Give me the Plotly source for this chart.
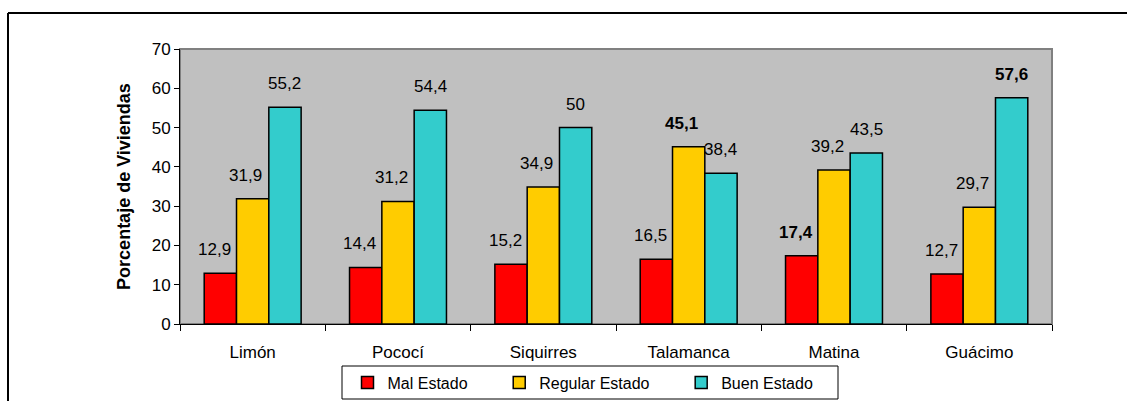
import plotly.graph_objects as go

categories = ["Limón", "Pococí", "Siquirres", "Talamanca", "Matina", "Guácimo"]
series_names = ["Mal Estado", "Regular Estado", "Buen Estado"]
mal = [12.9, 14.4, 15.2, 16.5, 17.4, 12.7]
regular = [31.9, 31.2, 34.9, 45.1, 39.2, 29.7]
buen = [55.2, 54.4, 50.0, 38.4, 43.5, 57.6]
y_ticks = [0, 10, 20, 30, 40, 50, 60, 70]
y_title = "Porcentaje de Viviendas"

colors = ["#FF0000", "#FFCC00", "#33CCCC"]
label_xshift = [-6, -7, 0]
FONT = "Arial, Liberation Sans, sans-serif"
PAD = "\u00a0" * 6

W, H = 1127, 401
L, R, T, B = 180, 75, 49, 77
pw, ph = W - L - R, H - T - B
bargap = 0.333
n = len(categories)
bar_px = pw / n * (1 - bargap) / 3


def fmt(v):
    return ("%g" % v).replace(".", ",")


fig = go.Figure()
all_series = [mal, regular, buen]
for name, vals, col in zip(series_names, all_series, colors):
    fig.add_trace(go.Bar(
        x=categories, y=vals, name=name + PAD,
        marker=dict(color=col, line=dict(color="black", width=1.5)),
        hoverinfo="x+y",
    ))

annotations = []
for si, vals in enumerate(all_series):
    mx = max(vals)
    for c, v in zip(categories, vals):
        txt = fmt(v)
        if v == mx:
            txt = "<b>" + txt + "</b>"
        annotations.append(dict(
            x=c, y=v, xref="x", yref="y", text=txt, showarrow=False,
            xanchor="center", yanchor="bottom",
            xshift=(si - 1) * bar_px + label_xshift[si], yshift=12,
            font=dict(family=FONT, size=17, color="black"),
        ))


def px_x(p):
    return (p - L) / pw


def px_y(p):
    return (H - B - p) / ph


shapes = [
    dict(type="rect", xref="paper", yref="paper", x0=0, x1=1, y0=0, y1=1,
         line=dict(color="#808080", width=2), fillcolor="#C0C0C0", layer="below"),
    dict(type="line", xref="paper", yref="paper", x0=px_x(8), x1=px_x(W + 5),
         y0=px_y(13), y1=px_y(13), line=dict(color="black", width=2)),
    dict(type="line", xref="paper", yref="paper", x0=px_x(8), x1=px_x(8),
         y0=px_y(13), y1=px_y(H + 5), line=dict(color="black", width=2)),
    # legend frame
    dict(type="rect", xref="paper", yref="paper", x0=px_x(342), x1=px_x(838),
         y0=px_y(399), y1=px_y(366), line=dict(color="black", width=1),
         fillcolor="white", layer="below"),
]

fig.update_layout(
    template="none",
    width=W, height=H,
    margin=dict(l=L, r=R, t=T, b=B, autoexpand=False),
    paper_bgcolor="white",
    plot_bgcolor="#C0C0C0",
    barmode="group",
    bargap=bargap,
    bargroupgap=0,
    font=dict(family=FONT, size=16, color="black"),
    showlegend=True,
    legend=dict(
        orientation="h", xref="paper", yref="container",
        x=px_x(596), xanchor="center", y=(H - 382.5) / H, yanchor="middle",
        borderwidth=0, bgcolor="rgba(0,0,0,0)",
        font=dict(family=FONT, size=16, color="black"),
        traceorder="normal",
    ),
    annotations=annotations,
    shapes=shapes,
)

fig.update_xaxes(
    type="category", showline=True, linecolor="black", linewidth=1,
    ticks="outside", tickson="boundaries", ticklen=6, tickcolor="black",
    showgrid=False, zeroline=False, automargin=False,
    tickfont=dict(family=FONT, size=17), ticklabelstandoff=13,
)
fig.update_yaxes(
    range=[0, 70], tickvals=y_ticks, ticktext=[str(t) for t in y_ticks],
    showline=True, linecolor="black", linewidth=1,
    ticks="outside", ticklen=5, tickcolor="black",
    showgrid=False, zeroline=False, automargin=False,
    tickfont=dict(family=FONT, size=17),
    title=dict(text="<b>" + y_title + "</b>", font=dict(family=FONT, size=18), standoff=16),
)

fig.write_html(
    "out.html",
    config={"displayModeBar": False},
    post_script="document.body.style.margin='0';document.body.style.overflow='hidden';",
)
